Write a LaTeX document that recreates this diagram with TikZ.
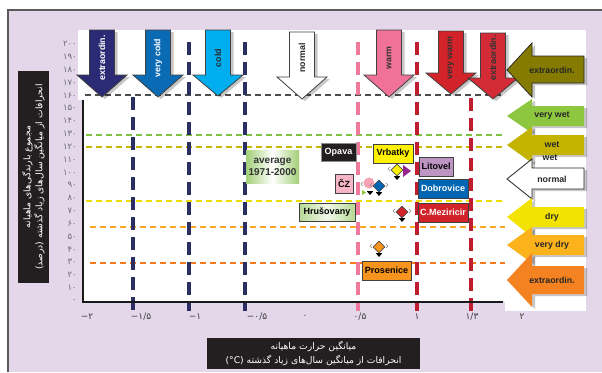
\documentclass[tikz,border=0pt]{standalone}
\usepackage{fontspec}
\setmainfont{Liberation Sans}
\newfontfamily\fafont[Script=Arabic]{DejaVu Sans}
\newfontfamily\numfont{DejaVu Sans}
\TeXXeTstate=1
\usetikzlibrary{shapes.geometric,shadows}
\definecolor{lav}{HTML}{E3D7E9}
\definecolor{frm}{HTML}{5A5A5A}
\definecolor{navyc}{HTML}{2B2A74}
\definecolor{vcold}{HTML}{0A6AB4}
\definecolor{coldc}{HTML}{00AEEF}
\definecolor{warmc}{HTML}{F07299}
\definecolor{vwarm}{HTML}{D2232A}
\definecolor{exred}{HTML}{D42C37}
\definecolor{vline}{HTML}{2B2E63}
\definecolor{pline}{HTML}{F07A9B}
\definecolor{rline}{HTML}{BE1E2D}
\definecolor{olive}{HTML}{857B00}
\definecolor{vwet}{HTML}{8DC63F}
\definecolor{wetc}{HTML}{C4B300}
\definecolor{dryc}{HTML}{F2E400}
\definecolor{vdry}{HTML}{FBB21B}
\definecolor{exorg}{HTML}{F58220}
\definecolor{hgreen}{HTML}{7FC241}
\definecolor{holive}{HTML}{C9B800}
\definecolor{hyell}{HTML}{EEDD00}
\definecolor{hamber}{HTML}{F9A825}
\definecolor{horange}{HTML}{F47A20}
\definecolor{lgreen}{HTML}{A3CF78}
\definecolor{pinkbox}{HTML}{F7B5C9}
\definecolor{lilac}{HTML}{BC95C2}
\definecolor{dblue}{HTML}{0066B3}
\definecolor{orgbox}{HTML}{F7941D}
\definecolor{ybox}{HTML}{FFF200}
\definecolor{purp}{HTML}{93278F}
\definecolor{darkbox}{HTML}{231F20}
\definecolor{numgray}{HTML}{6D6E71}
\newcommand\DnArr[8]{%
  \path[fill=#6, draw=black!75, line width=0.8pt, arrshadow]
    (#2-12.5,#3) -- (#2+12.5,#3) -- (#2+12.5,#4) -- (#2+25,#4) -- (#2,#5)
    -- (#2-25,#4) -- (#2-12.5,#4) -- cycle;
  \node[arrtxt, text=#7] (#1) at (#2,58) {#8};}
\newcommand\LtArr[9]{%
  \path[fill=#7, arrshadow, #9]
    (507,#2) -- (532,#3) -- (532,#5) -- (584,#5) -- (584,#6) -- (532,#6)
    -- (532,#4) -- cycle;
  \node[lefttxt] (#1) at (552,#2) {#8};}
\newcommand\ErrMark[2]{%
  \draw[black, line width=0.6pt] (#1-3,#2+7) -- (#1+3,#2+7);
  \fill[black] (#1-2.5,#2+8) -- (#1+2.5,#2+8) -- (#1,#2+11) -- cycle;
  \draw[black!45, line width=0.5pt] (#1-7,#2-2) -- (#1-9,#2) -- (#1-7,#2+2)
    (#1+7,#2-2) -- (#1+9,#2) -- (#1+7,#2+2);}
\newcommand\mn{{\numfont −}}
\begin{document}
\begin{tikzpicture}[x=1pt,y=-1pt,
  arrshadow/.style={drop shadow={opacity=0.22, shadow xshift=3pt, shadow yshift=-2pt, fill=black}},
  arrtxt/.style={rotate=90, font=\bfseries\fontsize{8.8}{10}\selectfont, inner sep=0pt},
  lefttxt/.style={font=\bfseries\fontsize{8.8}{10}\selectfont, text=black!85, inner sep=0pt},
  hd/.style={line width=1.6pt, dash pattern=on 6pt off 4pt},
  vd/.style={line width=3.6pt, dash pattern=on 13pt off 7pt},
  lbl/.style={draw=black!75, line width=1pt, inner sep=0pt, minimum height=19pt,
    font=\bfseries\fontsize{9}{10}\selectfont},
  ylab/.style={anchor=east, text=numgray, inner sep=0pt, font=\fafont\fontsize{8.5}{9}\selectfont},
  xlab/.style={text=black!75, inner sep=0pt, font=\fafont\fontsize{9}{10}\selectfont},
  dmd/.style={diamond, draw=black!70, line width=0.6pt, minimum size=12pt, inner sep=0pt}]
\useasboundingbox (0,0) rectangle (602,372);
\fill[white] (0,0) rectangle (602,372);
\fill[lav] (8,10) rectangle (602,372);
\draw[frm, line width=2pt] (8,372) -- (8,10) -- (602,10);
\fill[white] (78,30) rectangle (586,100);
\fill[white] (83,100) rectangle (586,302);
\fill[white] (505,100) rectangle (586,311);
% horizontal dashed lines
\draw[hd, color=black!70] (85,95) -- (505,95);
\draw[hd, color=hgreen] (86,135) -- (505,135);
\draw[hd, color=holive] (86,147) -- (505,147);
\draw[hd, color=hyell] (86,201) -- (505,201);
\draw[hd, color=hamber] (90,227) -- (505,227);
\draw[hd, color=horange] (90,263) -- (505,263);
% vertical dashed lines
\draw[vd, vline] (133,97) -- (133,311);
\draw[vd, vline] (189,42) -- (189,311);
\draw[vd, vline] (245,42) -- (245,311);
\draw[vd, pline] (358,42) -- (358,311);
\draw[vd, rline] (417,42) -- (417,311);
\draw[vd, rline] (471,98) -- (471,311);
% down arrows
\DnArr{aExN}{102}{30}{75}{97}{navyc}{white}{extraordin.}
\DnArr{aVC}{158}{30}{75}{97}{vcold}{white}{very cold}
\DnArr{aC}{218}{30}{75}{96}{coldc}{black!85}{cold}
\DnArr{aN}{302}{32}{77}{99}{white}{black!85}{normal}
\DnArr{aW}{389}{30}{75}{97}{warmc}{black!80}{warm}
\DnArr{aVW}{451}{31}{73}{94}{vwarm}{black!80}{very warm}
\DnArr{aExR}{493}{33}{78}{99}{exred}{black!80}{extraordin.}
% left arrows
\LtArr{bEx}{70}{43}{97}{56}{83}{olive}{extraordin.}{draw=black!85, line width=0.8pt}
\LtArr{bVW}{116}{99}{133}{106}{126}{vwet}{very wet}{}
\LtArr{bW}{145}{127}{163}{135}{155}{wetc}{wet}{}
\node[lefttxt] (bW2) at (550,158) {wet};
\LtArr{bN}{179}{159}{199}{168}{189}{white}{normal}{draw=black!85, line width=0.8pt}
\LtArr{bD}{217}{198}{237}{207}{227}{dryc}{dry}{}
\LtArr{bVD}{245}{227}{263}{235}{255}{vdry}{very dry}{}
\LtArr{bEO}{280}{253}{307}{266}{294}{exorg}{extraordin.}{}
% axes
\draw[line width=2pt, black!90] (83,100) -- (83,302) -- (503,302);
% y labels
\foreach \v/\t in {0/۰,10/۱۰,20/۲۰,30/۳۰,40/۴۰,50/۵۰,60/۶۰,70/۷۰,80/۸۰,90/۹۰,100/۱۰۰,110/۱۱۰,120/۱۲۰,130/۱۳۰,140/۱۴۰,150/۱۵۰,160/۱۶۰,170/۱۷۰,180/۱۸۰,190/۱۹۰,200/۲۰۰}
  \node[ylab] (y\v) at (77,300.7-1.2835*\v) {\t};
% x labels
\node[xlab] (xm2) at (87,317) {\mn۲};
\node[xlab] (xm15) at (141,317) {\mn۱/۵};
\node[xlab] (xm1) at (195,317) {\mn۱};
\node[xlab] (xm05) at (257,317) {\mn۰/۵};
\node[xlab] (x0) at (305,317) {۰};
\node[xlab] (x05) at (360,317) {۰/۵};
\node[xlab] (x1) at (417,317) {۱};
\node[xlab] (x13) at (472,317) {۱/۳};
\node[xlab] (x2) at (522,317) {۲};
% axis titles
\node[fill=darkbox, text=white, rotate=90, minimum width=212pt, minimum height=31pt,
  align=center, inner sep=0pt, font=\fafont\fontsize{9.2}{12}\selectfont] (ytitle) at (33.5,177)
  {\beginR مجموع بارندگی^^^^200cهای ماهیانه\endR\\\beginR انحرافات از میانگین سال^^^^200cهای زیاد گذشته (درصد)\endR};
\node[fill=darkbox, text=white, minimum width=213pt, minimum height=31pt,
  align=center, inner sep=0pt, font=\fafont\fontsize{9.2}{14}\selectfont] (xtitle) at (313.5,353.5)
  {\beginR میانگین حرارت ماهیانه\endR\\\beginR انحرافات از میانگین سال^^^^200cهای زیاد گذشته \beginL(°C)\endL\endR};
% labels
\node[lbl, minimum width=53pt, minimum height=33pt, align=center, left color=lgreen, right color=lgreen,
  middle color=white, font=\bfseries\fontsize{10}{12}\selectfont, draw=none, text=black!80] (avg) at (272.5,166.5) {average\\1971-2000};
\node[lbl, fill=darkbox, draw=black!45, text=white, minimum width=35pt, minimum height=18pt] (opava) at (338.5,152) {Opava};
\node[lbl, fill=ybox, minimum width=40pt] (vrb) at (393,153.5) {Vrbatky};
\node[lbl, fill=pinkbox, minimum width=18pt] (cz) at (344,183.5) {ČZ};
\node[lbl, left color=lgreen!80, right color=lgreen!80, middle color=lgreen!15, minimum width=56pt, minimum height=18pt] (hru) at (327,212) {Hrušovany};
\node[lbl, fill=lilac, minimum width=34pt] (lit) at (436,166.5) {Litovel};
\node[lbl, fill=dblue, text=white, minimum width=50pt] (dob) at (443,188.5) {Dobrovice};
\node[lbl, fill=vwarm, text=white, minimum width=50pt] (cmz) at (443,212.5) {C.Meziricir};
\node[lbl, fill=orgbox, minimum width=49pt] (pro) at (386.5,270.5) {Prosenice};
% markers
\node[circle, fill=pinkbox!90!red, minimum size=11pt, inner sep=0pt] (mCZ) at (369,183) {};
\fill[vwet] (362,190) -- (366,192.5) -- (362,195) -- cycle;
\ErrMark{370}{184}
\node[dmd, fill=dblue] (mDob) at (379,186) {};
\ErrMark{379}{185}
\node[dmd, fill=ybox] (mVrb) at (397,170) {};
\ErrMark{397}{169}
\fill[purp] (403,165) -- (411,171) -- (403,177) -- cycle;
\node[dmd, fill=vwarm] (mCmz) at (402,212) {};
\ErrMark{402}{211}
\node[dmd, fill=orgbox] (mPro) at (379,247) {};
\ErrMark{379}{246}
\end{tikzpicture}
\end{document}
